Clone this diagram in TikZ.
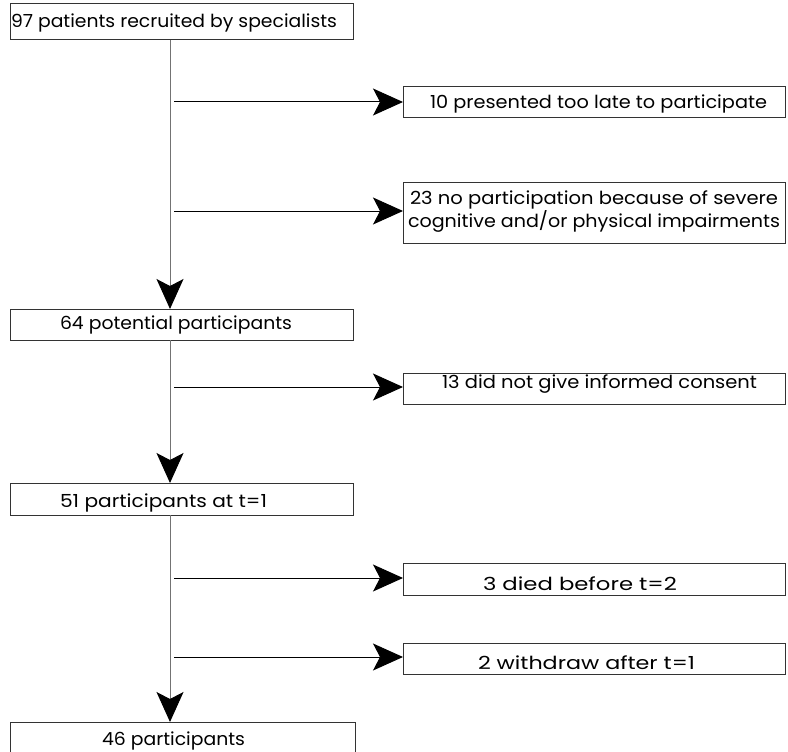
\documentclass[tikz,border=0pt]{standalone}
\usepackage{fontspec}
\setmainfont{Poppins}
\usepackage{graphicx}
\usetikzlibrary{arrows.meta}
\newcommand\fitw[2]{\resizebox{#1pt}{\height}{#2}}
\begin{document}
\begin{tikzpicture}[x=1pt,y=-1pt,
  box/.style={draw=black!80,line width=1pt,inner sep=0pt,outer sep=0pt,anchor=north west,rectangle},
  lab/.style={inner sep=0pt,outer sep=0pt,anchor=base west,font=\fontsize{18}{22}\selectfont},
  bigtip/.style={-{Stealth[length=30pt,width=27pt,inset=7pt,color=black]}},
  vline/.style={draw=black!55,line width=1pt,bigtip},
  hline/.style={draw=black,line width=1pt,bigtip}]
\useasboundingbox (0,0) rectangle (788,752);
% main boxes
\node[box,minimum width=343pt,minimum height=36pt] (b1) at (10,4) {};
\node[box,minimum width=343pt,minimum height=31pt] (b2) at (10,309) {};
\node[box,minimum width=343pt,minimum height=32pt] (b3) at (10,483) {};
\node[box,minimum width=345pt,minimum height=40pt] (b4) at (10,722) {};
% side boxes
\node[box,minimum width=382pt,minimum height=31pt] (bA) at (403,87) {};
\node[box,minimum width=382pt,minimum height=61pt] (bB) at (403,182) {};
\node[box,minimum width=382pt,minimum height=31pt] (bC) at (403,373) {};
\node[box,minimum width=382pt,minimum height=32pt] (bD) at (403,563) {};
\node[box,minimum width=382pt,minimum height=31pt] (bE) at (403,643) {};
% texts
\node[lab] (t1) at (11,28) {\fitw{326}{97 patients recruited by specialists}};
\node[lab] (tA) at (430,108) {\fitw{337}{10 presented too late to participate}};
\node[lab] (tB1) at (410,204) {\fitw{368}{23 no participation because of severe}};
\node[lab] (tB2) at (408,227) {\fitw{372}{cognitive and/or physical impairments}};
\node[lab] (t2) at (60,329) {\fitw{232}{64 potential participants}};
\node[lab] (tC) at (442,388) {\fitw{315}{13 did not give informed consent}};
\node[lab] (t3) at (60,507) {\fitw{207}{51 participants at t=1}};
\node[lab] (tD) at (483,590) {\fitw{194}{3 died before t=2}};
\node[lab] (tE) at (478,669) {\fitw{217}{2 withdraw after t=1}};
\node[lab] (t4) at (102,745) {\fitw{143}{46 participants}};
% connectors
\coordinate (v) at (170,0);
\draw[vline] (b1.south -| v) -- (b2.north -| v);
\draw[vline] (b2.south -| v) -- (b3.north -| v);
\draw[vline] (b3.south -| v) -- (b4.north -| v);
\coordinate (sA) at (174,102);
\coordinate (sB) at (174,211);
\coordinate (sC) at (174,387);
\coordinate (sD) at (174,578);
\coordinate (sE) at (174,657);
\draw[hline] (sA) -- (bA.west |- sA);
\draw[hline] (sB) -- (bB.west |- sB);
\draw[hline] (sC) -- (bC.west |- sC);
\draw[hline] (sD) -- (bD.west |- sD);
\draw[hline] (sE) -- (bE.west |- sE);
\end{tikzpicture}
\end{document}
